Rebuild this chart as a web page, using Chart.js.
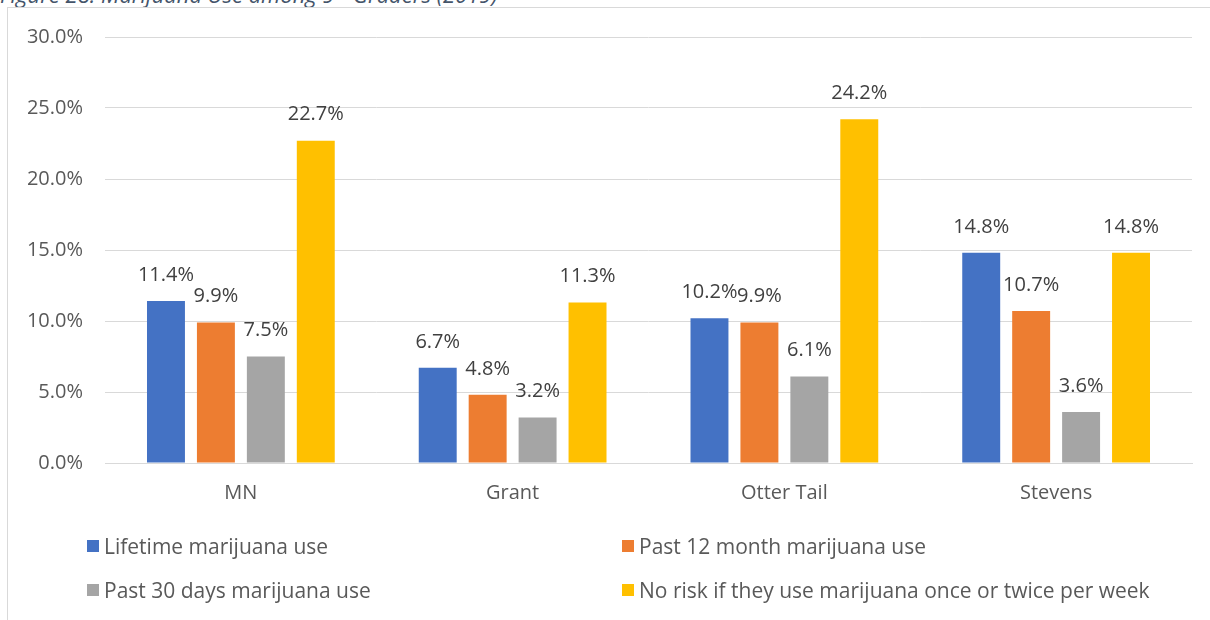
<!DOCTYPE html>
<html>
<head>
<meta charset="utf-8">
<script src="https://cdn.jsdelivr.net/npm/chart.js@4"></script>
<style>
  html, body { margin: 0; padding: 0; background: #fff; }
  #wrap { position: relative; width: 1210px; height: 620px; overflow: hidden; font-family: "Open Sans", sans-serif; }
  #title { position: absolute; left: 0; top: -21px; font-style: italic; font-size: 22px; line-height: 30px; color: #44546a; white-space: nowrap; }
  #title sup { font-size: 14px; line-height: 0; }
  #frame { position: absolute; left: 7px; top: 7px; width: 1220px; height: 640px; border-left: 1px solid #d9d9d9; border-top: 1px solid #d9d9d9; }
  #chart { position: absolute; left: 0; top: 0; }
  .lg { position: absolute; font-size: 21px; color: #595959; white-space: nowrap; display: flex; align-items: center; }
  .lg i { display: inline-block; width: 12px; height: 12px; margin-right: 5px; }
</style>
</head>
<body>
<div id="wrap">
  <div id="title">Figure 28: Marijuana Use among 9<sup>th</sup> Graders (2019)</div>
  <div id="frame"></div>
  <canvas id="chart" width="1210" height="620"></canvas>
  <div id="legend"></div>
</div>
<script>
const categories = ["MN", "Grant", "Otter Tail", "Stevens"];
const seriesNames = [
  "Lifetime marijuana use",
  "Past 12 month marijuana use",
  "Past 30 days marijuana use",
  "No risk if they use marijuana once or twice per week"
];
const lifetimeUse = [11.4, 6.7, 10.2, 14.8];
const past12MonthUse = [9.9, 4.8, 9.9, 10.7];
const past30DaysUse = [7.5, 3.2, 6.1, 3.6];
const noRiskWeekly = [22.7, 11.3, 24.2, 14.8];
const seriesColors = ["#4472c4", "#ed7d31", "#a5a5a5", "#ffc000"];
const yTicks = [0, 5, 10, 15, 20, 25, 30];

const seriesValues = [lifetimeUse, past12MonthUse, past30DaysUse, noRiskWeekly];
const FONT = "'Open Sans', sans-serif";

// Percentage labels above each bar
const barLabels = {
  id: "barLabels",
  afterDatasetsDraw(chart) {
    const ctx = chart.ctx;
    ctx.save();
    ctx.font = "20px " + FONT;
    ctx.fillStyle = "#404040";
    ctx.textAlign = "center";
    ctx.textBaseline = "middle";
    chart.data.datasets.forEach((ds, i) => {
      chart.getDatasetMeta(i).data.forEach((bar, j) => {
        ctx.fillText(ds.data[j].toFixed(1) + "%", bar.x, bar.y - 26);
      });
    });
    ctx.restore();
  }
};

new Chart(document.getElementById("chart"), {
  type: "bar",
  data: {
    labels: categories,
    datasets: seriesNames.map((name, i) => ({
      label: name,
      data: seriesValues[i],
      backgroundColor: seriesColors[i],
      categoryPercentage: 0.735,
      barPercentage: 0.76
    }))
  },
  options: {
    responsive: false,
    animation: false,
    layout: { padding: { left: 7, top: 37, right: 18, bottom: 0 } },
    plugins: { legend: { display: false }, tooltip: { enabled: false } },
    scales: {
      x: {
        grid: { display: false, drawTicks: false },
        border: { color: "#d9d9d9", width: 1 },
        ticks: { color: "#595959", font: { family: FONT, size: 20 }, padding: 18 },
        afterFit(s) { s.height = 157; }
      },
      y: {
        min: 0, max: 30,
        afterBuildTicks(s) { s.ticks = yTicks.map(v => ({ value: v })); },
        grid: { color: "#d9d9d9", lineWidth: 1, drawTicks: false },
        border: { display: false },
        ticks: {
          color: "#595959", font: { family: FONT, size: 20 }, padding: 22,
          callback: v => v.toFixed(1) + "%"
        },
        afterFit(s) { s.width = 98; }
      }
    }
  },
  plugins: [barLabels]
});

// Two-column legend below the plot
const legendPos = [[87, 547], [622, 547], [87, 591], [622, 591]];
const legendEl = document.getElementById("legend");
seriesNames.forEach((name, i) => {
  const d = document.createElement("div");
  d.className = "lg";
  d.style.left = legendPos[i][0] + "px";
  d.style.top = (legendPos[i][1] - 15) + "px";
  d.innerHTML = '<i style="background:' + seriesColors[i] + '"></i>' + name;
  legendEl.appendChild(d);
});
</script>
</body>
</html>
